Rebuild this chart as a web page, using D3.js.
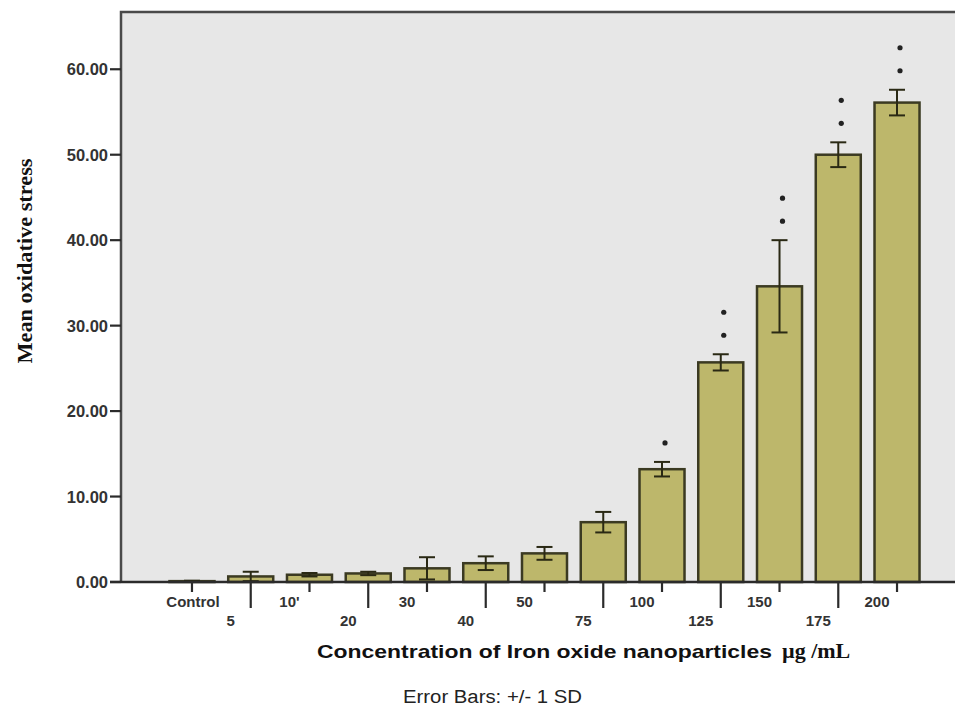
<!DOCTYPE html>
<html>
<head>
<meta charset="utf-8">
<script src="https://cdn.jsdelivr.net/npm/d3@7"></script>
<style>
  body { margin: 0; background: #fff; }
  svg { display: block; }
</style>
</head>
<body>
<svg id="chart" width="955" height="708"></svg>
<script>
// concentrations (ug/mL)
var categories = ["Control", "5", "10'", "20", "30", "40", "50", "75", "100", "125", "150", "175", "200"];
var means = [0.1, 0.65, 0.85, 1.0, 1.6, 2.2, 3.35, 7.0, 13.2, 25.7, 34.6, 50.0, 56.1];
var sds = [0.05, 0.55, 0.2, 0.2, 1.3, 0.8, 0.75, 1.2, 0.85, 0.95, 5.4, 1.45, 1.5];
var stars = [0, 0, 0, 0, 0, 0, 0, 0, 1, 2, 2, 2, 2];
var yTicks = [0, 10, 20, 30, 40, 50, 60];

var svg = d3.select("#chart");

var plotL = 121, plotT = 12, plotR = 955, plotB = 582;

var x = d3.scaleBand()
  .domain(categories)
  .range([162.6, 926.4])
  .paddingInner(0.234)
  .paddingOuter(0.117);

var y = d3.scaleLinear()
  .domain([0, 66.7])
  .range([plotB, plotT]);

// plot background
svg.append("rect")
  .attr("x", plotL).attr("y", plotT)
  .attr("width", plotR - plotL).attr("height", plotB - plotT)
  .attr("fill", "#e7e7e7");

// frame: left and top
svg.append("path")
  .attr("d", "M" + plotL + "," + plotB + "V" + plotT + "H" + plotR)
  .attr("fill", "none")
  .attr("stroke", "#4a4a4a")
  .attr("stroke-width", 2.5);

// bars
var g = svg.append("g");
g.selectAll("rect.bar")
  .data(means)
  .enter().append("rect")
  .attr("class", "bar")
  .attr("x", function(d, i){ return x(categories[i]); })
  .attr("y", function(d){ return y(d); })
  .attr("width", x.bandwidth())
  .attr("height", function(d){ return plotB - y(d); })
  .attr("fill", "#bdb76b")
  .attr("stroke", "#3b3a22")
  .attr("stroke-width", 2.5);

// error bars
var cap = 8;
var eb = g.selectAll("g.err")
  .data(means)
  .enter().append("g")
  .attr("class", "err")
  .attr("stroke", "#2a2914")
  .attr("stroke-width", 2);
eb.append("line")
  .attr("x1", function(d, i){ return x(categories[i]) + x.bandwidth() / 2; })
  .attr("x2", function(d, i){ return x(categories[i]) + x.bandwidth() / 2; })
  .attr("y1", function(d, i){ return y(d - sds[i]); })
  .attr("y2", function(d, i){ return y(d + sds[i]); });
eb.append("line")
  .attr("x1", function(d, i){ return x(categories[i]) + x.bandwidth() / 2 - cap; })
  .attr("x2", function(d, i){ return x(categories[i]) + x.bandwidth() / 2 + cap; })
  .attr("y1", function(d, i){ return y(d + sds[i]); })
  .attr("y2", function(d, i){ return y(d + sds[i]); });
eb.append("line")
  .attr("x1", function(d, i){ return x(categories[i]) + x.bandwidth() / 2 - cap; })
  .attr("x2", function(d, i){ return x(categories[i]) + x.bandwidth() / 2 + cap; })
  .attr("y1", function(d, i){ return y(d - sds[i]); })
  .attr("y2", function(d, i){ return y(d - sds[i]); });

// significance marks
means.forEach(function(m, i){
  for (var k = 0; k < stars[i]; k++) {
    svg.append("circle")
      .attr("cx", x(categories[i]) + x.bandwidth() / 2 + 3)
      .attr("cy", y(m + sds[i]) - 19 - k * 23)
      .attr("r", 2.6)
      .attr("fill", "#222");
  }
});

// bottom axis line
svg.append("line")
  .attr("x1", plotL - 11).attr("x2", plotR)
  .attr("y1", plotB).attr("y2", plotB)
  .attr("stroke", "#2b2b2b")
  .attr("stroke-width", 2.5);

// x ticks + labels (alternating rows)
categories.forEach(function(c, i){
  var cx = x(c) + x.bandwidth() / 2;
  var low = i % 2 == 1;
  svg.append("line")
    .attr("x1", cx).attr("x2", cx)
    .attr("y1", plotB).attr("y2", low ? 608 : 592)
    .attr("stroke", "#2b2b2b")
    .attr("stroke-width", 2.2);
  svg.append("text")
    .attr("x", cx + (i == 0 ? 1 : -20))
    .attr("y", low ? 626 : 607)
    .attr("text-anchor", "middle")
    .attr("font-family", "Liberation Sans, Arial, sans-serif")
    .attr("font-weight", "bold")
    .attr("font-size", 15)
    .attr("fill", "#333")
    .text(c);
});

// y axis ticks
var fmt = d3.format(".2f");
yTicks.forEach(function(t){
  svg.append("line")
    .attr("x1", plotL - 11).attr("x2", plotL)
    .attr("y1", y(t)).attr("y2", y(t))
    .attr("stroke", "#2b2b2b")
    .attr("stroke-width", 2.2);
  svg.append("text")
    .attr("x", 108)
    .attr("y", y(t) + 6)
    .attr("text-anchor", "end")
    .attr("font-family", "Liberation Sans, Arial, sans-serif")
    .attr("font-weight", "bold")
    .attr("font-size", 16.5)
    .attr("fill", "#333")
    .text(fmt(t));
});

// axis titles
svg.append("text")
  .attr("transform", "translate(32,261) rotate(-90)")
  .attr("text-anchor", "middle")
  .attr("font-family", "Liberation Serif, Times New Roman, serif")
  .attr("font-weight", "bold")
  .attr("font-size", 22)
  .attr("textLength", 205)
  .attr("lengthAdjust", "spacingAndGlyphs")
  .attr("fill", "#111")
  .text("Mean oxidative stress");

svg.append("text")
  .attr("x", 317).attr("y", 658)
  .attr("font-family", "Liberation Sans, Arial, sans-serif")
  .attr("font-weight", "bold")
  .attr("font-size", 19)
  .attr("textLength", 455)
  .attr("lengthAdjust", "spacingAndGlyphs")
  .attr("fill", "#111")
  .text("Concentration of Iron oxide nanoparticles");

svg.append("text")
  .attr("x", 782).attr("y", 658)
  .attr("font-family", "Liberation Serif, Times New Roman, serif")
  .attr("font-weight", "bold")
  .attr("font-size", 22)
  .attr("fill", "#111")
  .text("\u00b5g /mL");

svg.append("text")
  .attr("x", 403).attr("y", 703)
  .attr("font-family", "Liberation Sans, Arial, sans-serif")
  .attr("font-size", 18)
  .attr("textLength", 179)
  .attr("lengthAdjust", "spacingAndGlyphs")
  .attr("fill", "#222")
  .text("Error Bars: +/- 1 SD");
</script>
</body>
</html>
